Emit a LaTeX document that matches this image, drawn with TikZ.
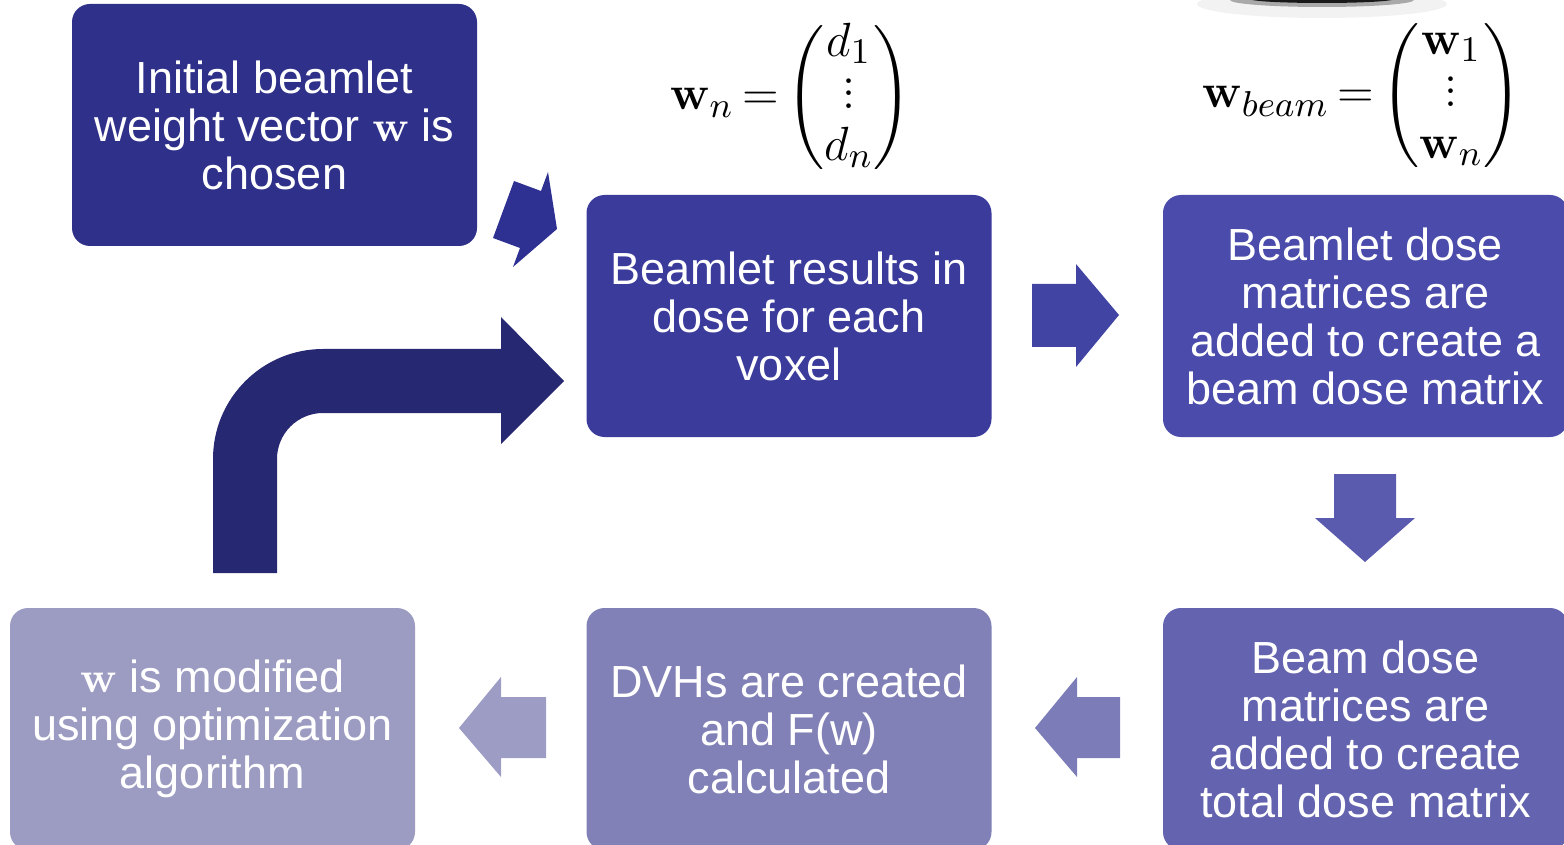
\documentclass[tikz,border=0pt]{standalone}
\usepackage{amsmath}
\usepackage[no-math]{fontspec}
\setmainfont{Liberation Sans}

% fills of the steps, from dark to light along the loop
\definecolor{stepA}{HTML}{2E3089}
\definecolor{stepB}{HTML}{3B3B9C}
\definecolor{stepC}{HTML}{4A4BAA}
\definecolor{stepD}{HTML}{6363AF}
\definecolor{stepE}{HTML}{8181B7}
\definecolor{stepF}{HTML}{9C9CC3}
% fills of the block arrows
\definecolor{arrA}{HTML}{2F3192}
\definecolor{arrB}{HTML}{4244A4}
\definecolor{arrC}{HTML}{5A5AAE}
\definecolor{arrD}{HTML}{7C7CB9}
\definecolor{arrE}{HTML}{9C9CC4}
\definecolor{arrLoop}{HTML}{272872}

% compact vertical ellipsis for the vectors (round math dots)
\newcommand{\tightvdots}{\vbox{\baselineskip3.1pt\lineskiplimit0pt
  \kern1pt\hbox{$.$}\hbox{$.$}\hbox{$.$}}}

\tikzset{
  stepbox/.style={rounded corners=4.5pt, inner sep=0pt,
    minimum width=101.25pt, minimum height=60.5pt,
    text=white, align=center,
    font=\fontsize{11.25}{12}\selectfont},
  eqnode/.style={inner sep=0pt, font=\fontsize{12.5}{13}\selectfont},
}

\begin{document}
\begin{tikzpicture}[x=0.25pt, y=-0.25pt]
  \useasboundingbox (0,0) rectangle (1564,845);
  \clip (0,0) rectangle (1564,845);

  % blurred dark mark at the top edge
  \fill[black, opacity=0.05] (1322,4) ellipse [x radius=125, y radius=14];
  \fill[black, opacity=0.3] (1322,0) ellipse [x radius=92, y radius=7];
  \fill[black, opacity=0.85] (1322,-1) ellipse [x radius=72, y radius=4];

  % process steps
  \node[stepbox, fill=stepA] (init) at (274.5,125)
    {Initial beamlet\\weight vector $\mathbf{w}$ is\\chosen};
  \node[stepbox, fill=stepB] (dose) at (789,316)
    {Beamlet results in\\dose for each\\voxel};
  \node[stepbox, fill=stepC] (beam) at (1365.5,316)
    {Beamlet dose\\matrices are\\added to create a\\beam dose matrix};
  \node[stepbox, fill=stepD] (total) at (1365.5,729)
    {Beam dose\\matrices are\\added to create\\total dose matrix};
  \node[stepbox, fill=stepE] (dvh) at (789,729)
    {DVHs are created\\and F(w)\\calculated};
  \node[stepbox, fill=stepF] (modify) at (212.5,729)
    {$\mathbf{w}$ is modified\\using optimization\\algorithm};

  % vectors
  \node[eqnode] (eqwn) at (791,98)
    {$\mathbf{w}_n \mkern-2mu=\mkern-2mu
      \begin{pmatrix} d_1\\ \tightvdots\\ d_n \end{pmatrix}$};
  \node[eqnode] (eqwb) at (1362,96)
    {$\mathbf{w}_{beam} \mkern-2mu=\mkern-2mu
      \begin{pmatrix} \mathbf{w}_1\\ \tightvdots\\ \mathbf{w}_n \end{pmatrix}$};

  % tilted arrow from the first step
  \fill[arrA] (493,238) -- (514,181) -- (541,191) -- (548,172)
    -- (557,229) -- (513,267) -- (520,248) -- cycle;

  % right arrow
  \fill[arrB] (1032,284) -- (1076,284) -- (1076,264) -- (1119,315)
    -- (1076,367) -- (1076,347) -- (1032,347) -- cycle;

  % down arrow
  \fill[arrC] (1334,474) -- (1396,474) -- (1396,518) -- (1415,518)
    -- (1365,562) -- (1315,518) -- (1334,518) -- cycle;

  % left arrows
  \fill[arrD] (1120,697) -- (1077,697) -- (1077,677) -- (1035,728)
    -- (1077,777) -- (1077,758) -- (1120,758) -- cycle;
  \fill[arrE] (546,697) -- (501,697) -- (501,677) -- (459,728)
    -- (501,777) -- (501,758) -- (546,758) -- cycle;

  % bent loop-back arrow
  \fill[arrLoop] (213,573) -- (213,459)
    arc[start angle=180, end angle=270, radius=110]
    -- (501,349) -- (501,317) -- (564,381) -- (501,444) -- (501,413)
    -- (323,413)
    arc[start angle=270, end angle=180, radius=46]
    -- (277,573) -- cycle;
\end{tikzpicture}
\end{document}
